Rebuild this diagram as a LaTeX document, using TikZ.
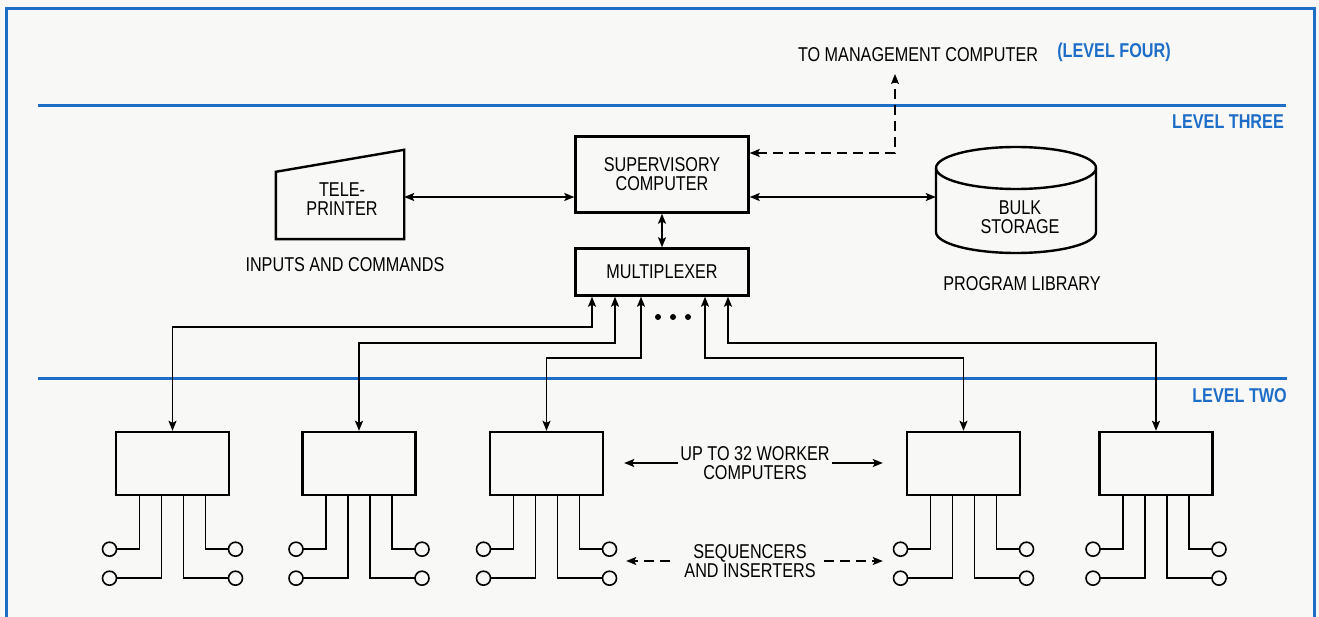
\documentclass[tikz,border=0pt]{standalone}
\usepackage{fontspec}
\setmainfont{Liberation Sans}[FakeStretch=0.81]
\usetikzlibrary{arrows.meta,calc}
\definecolor{lvlblue}{RGB}{30,110,200}
\definecolor{paper}{RGB}{248,248,246}
\begin{document}
\begin{tikzpicture}[x=1pt,y=-1pt,
  box/.style={draw,line width=2.4pt,inner sep=0pt,align=center,font=\fontsize{20}{19}\selectfont},
  txt/.style={font=\fontsize{20}{19}\selectfont,align=center,inner sep=2pt},
  lvl/.style={text=lvlblue,font=\fontsize{20}{19}\selectfont\bfseries,inner sep=0pt},
  conn/.style={line width=1.4pt,{Stealth[length=10pt,width=8pt,inset=2pt]}-{Stealth[length=10pt,width=8pt,inset=2pt]}},
  oneway/.style={line width=1.4pt,-{Stealth[length=10pt,width=8pt,inset=2pt]}},
  dashline/.style={dash pattern=on 10pt off 6pt},
  blueline/.style={draw=lvlblue,line width=3pt},
  lead/.style={line width=1.6pt}]
\fill[paper] (0,0) rectangle (1319,617);
\useasboundingbox (0,0) rectangle (1319,617);
% frame and level lines
\draw[blueline] (6,617) -- (6,9) -- (1314,9) -- (1314,617);
\draw[blueline] (38,106) -- (1286,106);
\draw[blueline] (38,378) -- (1287,378);
% level labels
\node[txt] (mgmtlabel) at (918,55) {TO MANAGEMENT COMPUTER};
\node[lvl] (l4) at (1114,52) {(LEVEL FOUR)};
\node[lvl,anchor=east] (l3) at (1284,122) {LEVEL THREE};
\node[lvl,anchor=east] (l2) at (1287,396) {LEVEL TWO};
% level three
\node[box,minimum width=173pt,minimum height=76pt] (sup) at (662,174.5) {SUPERVISORY\\COMPUTER};
\node[box,minimum width=173pt,minimum height=47pt] (mux) at (662,272) {MULTIPLEXER};
\node[minimum width=128pt,minimum height=89pt,inner sep=0pt] (tele) at (340,194.5) {};
\draw[line width=2.4pt] (tele.south west) -- (tele.south east) -- (tele.north east) -- ($(tele.north west)+(0,22)$) -- cycle;
\node[txt] (telelabel) at (342,199) {TELE-\\PRINTER};
\node[minimum width=160pt,minimum height=106pt,inner sep=0pt] (bulk) at (1016,200) {};
\draw[line width=2.4pt] ($(bulk.center)+(0,-32)$) ellipse (80pt and 21pt);
\draw[line width=2.4pt] ($(bulk.center)+(-80,-32)$) -- ++(0,64) arc[start angle=180,end angle=360,x radius=80pt,y radius=21pt] -- ++(0,-64);
\node[txt] (bulklabel) at (1020,217) {BULK\\STORAGE};
\node[txt] (inputs) at (345,265) {INPUTS AND COMMANDS};
\node[txt] (proglib) at (1022,284) {PROGRAM LIBRARY};
\coordinate (yarr) at (0,197);
\coordinate (ydash) at (0,153);
\coordinate (mgmt) at (895,74);
\draw[conn] (tele.east |- yarr) -- (sup.west |- yarr);
\draw[conn] (sup.east |- yarr) -- (bulk.west |- yarr);
\draw[conn] (sup.south) -- (mux.north);
\draw[conn,dashline] (sup.east |- ydash) -| (mgmt);
% level two workers
\foreach \n/\x in {w1/172.5,w2/359,w3/546.5,w4/963.5,w5/1156}
  \node[box,minimum width=113pt,minimum height=63pt] (\n) at (\x,463.5) {};
\coordinate (m1) at (592,327);
\coordinate (m2) at (615,343);
\coordinate (m3) at (641,358);
\coordinate (m4) at (705,358);
\coordinate (m5) at (728,343);
\draw[conn] (mux.south -| m1) -- (m1) -| (w1.north);
\draw[conn] (mux.south -| m2) -- (m2) -| (w2.north);
\draw[conn] (mux.south -| m3) -- (m3) -| (w3.north);
\draw[conn] (mux.south -| m4) -- (m4) -| (w4.north);
\draw[conn] (mux.south -| m5) -- (m5) -| (w5.north);
\fill (658,317) circle (3pt) (673,317) circle (3pt) (688,317) circle (3pt);
% leads and terminals
\foreach \n in {w1,w2,w3,w4,w5}{
  \foreach \s in {-1,1}{
    \draw[lead] ([xshift=\s*33pt]\n.south) |- ++(\s*23,53);
    \draw[lead] ([xshift=\s*11pt]\n.south) |- ++(\s*45,82);
    \draw[lead,fill=paper] ([xshift=\s*63pt,yshift=-53pt]\n.south) circle (7pt);
    \draw[lead,fill=paper] ([xshift=\s*63pt,yshift=-82pt]\n.south) circle (7pt);
  }
}
% middle labels
\node[txt] (workers) at (755,463) {UP TO 32 WORKER\\COMPUTERS};
\draw[oneway,shorten >=20pt] (workers.west) -- (workers.west -| w3.east);
\draw[oneway,shorten >=23pt] (workers.east) -- (workers.east -| w4.west);
\node[txt] (seq) at (750,561) {SEQUENCERS\\AND INSERTERS};
\draw[oneway,dashline,shorten >=22pt] ([xshift=-12pt]seq.west) -- (seq.west -| w3.east);
\draw[oneway,dashline] ([xshift=6pt]seq.east) -- ($(seq.east -| w4.west)+(-23,0)$);
\end{tikzpicture}
\end{document}
